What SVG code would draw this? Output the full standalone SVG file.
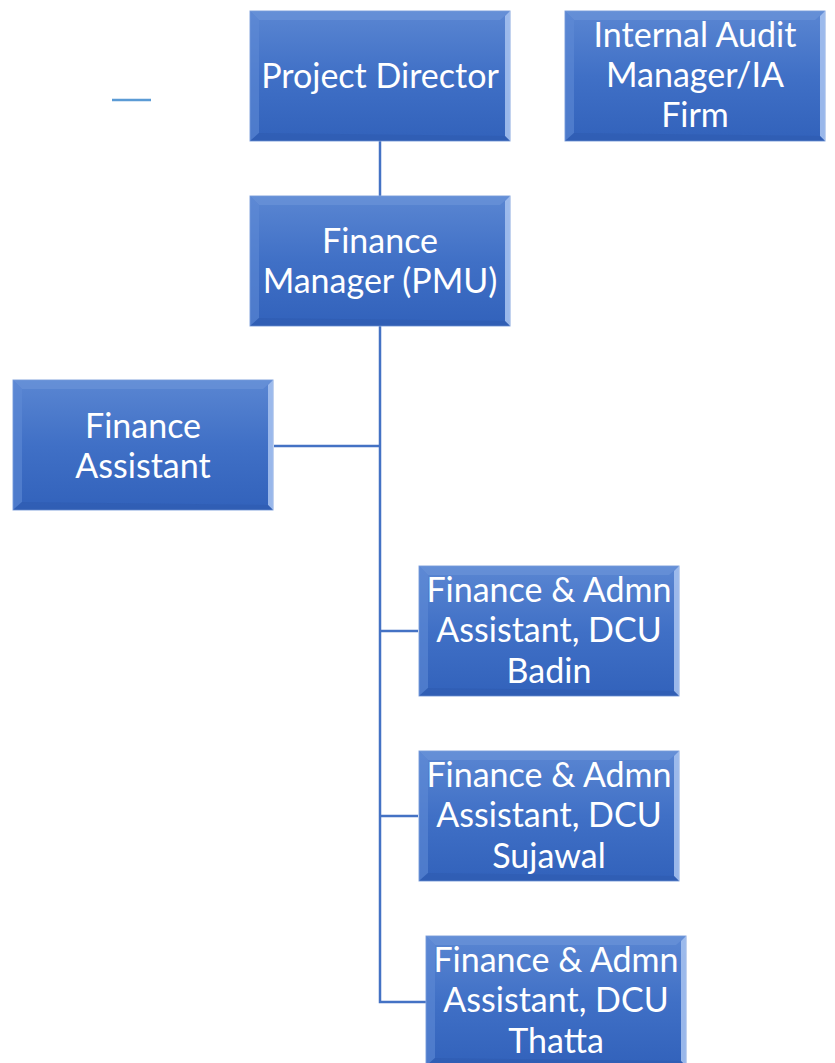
<svg xmlns="http://www.w3.org/2000/svg" width="835" height="1063" viewBox="0 0 835 1063">
  <defs>
    <linearGradient id="face" x1="0" y1="0" x2="0" y2="1">
      <stop offset="0" stop-color="#5a86d2"/>
      <stop offset="0.5" stop-color="#4070c6"/>
      <stop offset="1" stop-color="#3262bb"/>
    </linearGradient>
    <style>
      .face { fill: url(#face); stroke: #86a6de; stroke-width: 1; }
      .bev-top { fill: #6a93d8; opacity: 0.7; }
      .bev-left { fill: #5f8bd6; opacity: 0.6; }
      .bev-right { fill: #a4c0ee; opacity: 0.9; }
      .bev-bottom { fill: #2d5aad; opacity: 0.5; }
      .lbl { font-family: "Lato", "Open Sans", "Liberation Sans", sans-serif; font-size: 34px; fill: #ffffff; text-anchor: middle; }
      .conn { stroke: #4472c4; stroke-width: 2.5; fill: none; }
    </style>
    <!-- bevelled box 260 x 130 -->
    <g id="box">
      <rect class="face" x="0" y="0" width="260" height="130"/>
      <polygon class="bev-top" points="0,0 260,0 250,9 9,9"/>
      <polygon class="bev-left" points="0,0 9,9 9,122 0,130"/>
      <polygon class="bev-right" points="260,0 260,130 255,125 255,5"/>
      <polygon class="bev-bottom" points="0,130 9,122 255,125 260,130"/>
    </g>
  </defs>

  <rect width="835" height="1063" fill="#ffffff"/>

  <!-- stray short rule -->
  <line x1="112" y1="100" x2="151" y2="100" stroke="#5b9bd5" stroke-width="2.5"/>

  <g id="connectors">
    <line class="conn" x1="380" y1="141" x2="380" y2="196"/>
    <polyline class="conn" points="380,326 380,1002 426,1002"/>
    <line class="conn" x1="274" y1="446" x2="380" y2="446"/>
    <line class="conn" x1="380" y1="631" x2="418" y2="631"/>
    <line class="conn" x1="380" y1="816" x2="418" y2="816"/>
  </g>

  <g id="project-director">
    <use href="#box" x="250" y="11"/>
    <text class="lbl" x="380" y="88">Project Director</text>
  </g>

  <g id="internal-audit">
    <use href="#box" x="565" y="11"/>
    <text class="lbl" x="695" y="47">Internal Audit</text>
    <text class="lbl" x="695" y="87">Manager/IA</text>
    <text class="lbl" x="695" y="127">Firm</text>
  </g>

  <g id="finance-manager">
    <use href="#box" x="250" y="196"/>
    <text class="lbl" x="380" y="253">Finance</text>
    <text class="lbl" x="380" y="293">Manager (PMU)</text>
  </g>

  <g id="finance-assistant">
    <use href="#box" x="13" y="380"/>
    <text class="lbl" x="143" y="438">Finance</text>
    <text class="lbl" x="143" y="478">Assistant</text>
  </g>

  <g id="dcu-badin">
    <use href="#box" x="419" y="566"/>
    <text class="lbl" x="549" y="602">Finance &amp; Admn</text>
    <text class="lbl" x="549" y="642">Assistant, DCU</text>
    <text class="lbl" x="549" y="683">Badin</text>
  </g>

  <g id="dcu-sujawal">
    <use href="#box" x="419" y="751"/>
    <text class="lbl" x="549" y="787">Finance &amp; Admn</text>
    <text class="lbl" x="549" y="827">Assistant, DCU</text>
    <text class="lbl" x="549" y="868">Sujawal</text>
  </g>

  <g id="dcu-thatta">
    <use href="#box" x="426" y="936"/>
    <text class="lbl" x="556" y="972">Finance &amp; Admn</text>
    <text class="lbl" x="556" y="1012">Assistant, DCU</text>
    <text class="lbl" x="556" y="1053">Thatta</text>
  </g>
</svg>
